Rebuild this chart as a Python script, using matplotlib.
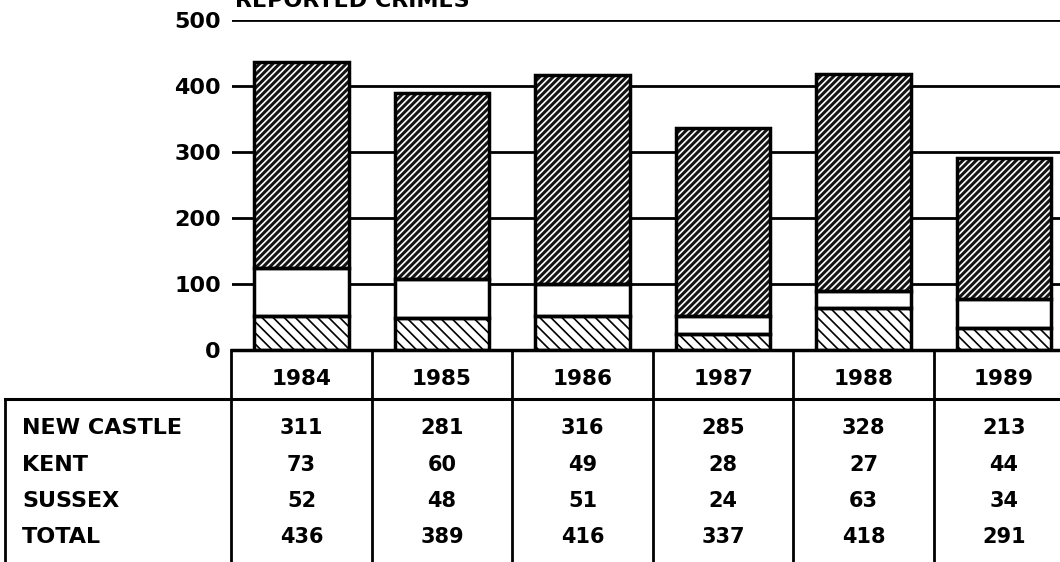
import matplotlib.pyplot as plt
import matplotlib.transforms as mtransforms
from matplotlib.lines import Line2D

years = ['1984', '1985', '1986', '1987', '1988', '1989']
new_castle = [311, 281, 316, 285, 328, 213]
kent = [73, 60, 49, 28, 27, 44]
sussex = [52, 48, 51, 24, 63, 34]
total = [436, 389, 416, 337, 418, 291]
row_labels = ['NEW CASTLE', 'KENT', 'SUSSEX', 'TOTAL']
y_ticks = [0, 100, 200, 300, 400, 500]

W, H = 1060, 562
plt.rcParams['font.family'] = ['DejaVu Sans']
plt.rcParams['font.weight'] = 'bold'
plt.rcParams['hatch.linewidth'] = 1.2


def fx(x):
    return x / W


def fy(y):
    return 1 - y / H


fig = plt.figure(figsize=(W / 100, H / 100), dpi=100)
ax = fig.add_axes([fx(232), fy(350), (W - 232) / W, (350 - 20) / H])

x = list(range(len(years)))
width = 0.67
kent_bottom = sussex
nc_bottom = [s + k for s, k in zip(sussex, kent)]

# fills
ax.bar(x, sussex, width, color='white', edgecolor='black', hatch='\\\\\\',
       linewidth=0, zorder=2)
ax.bar(x, kent, width, bottom=kent_bottom, color='white', linewidth=0, zorder=2)
ax.bar(x, new_castle, width, bottom=nc_bottom, color='#141414',
       edgecolor='white', hatch='/////', linewidth=0, zorder=2)
# outlines
for vals, bot in [(sussex, None), (kent, kent_bottom), (new_castle, nc_bottom)]:
    ax.bar(x, vals, width, bottom=bot, fill=False, edgecolor='black',
           linewidth=2.5, zorder=3)

for v in y_ticks[1:]:
    ax.axhline(v, color='black', lw=2, zorder=0)
ax.axhline(0, color='black', lw=2.5, zorder=4, clip_on=False)

ax.set_xlim((232 - 301.5) / 140.5, (W - 301.5) / 140.5)
ax.set_ylim(0, 500)
ax.set_yticks(y_ticks)
ax.set_yticklabels([str(v) for v in y_ticks], fontsize=16, fontweight='bold')
ax.tick_params(axis='y', length=0, pad=8)
ax.set_xticks([])
for s in ax.spines.values():
    s.set_visible(False)

# title is cut by the top edge in the original scan
fig.text(fx(235), fy(7), 'REPORTED CRIMES', ha='left', va='baseline',
         fontsize=16, fontweight='bold')

# table under the bars
trans = mtransforms.blended_transform_factory(ax.transData, fig.transFigure)
for i, yr in enumerate(years):
    ax.text(i, fy(379), yr, transform=trans, ha='center', va='center',
            fontsize=15.5, fontweight='bold', clip_on=False)

row_y = [428, 465, 501, 537]
rows = [new_castle, kent, sussex, total]
for lab, vals, yy in zip(row_labels, rows, row_y):
    fig.text(fx(22), fy(yy), lab, ha='left', va='center', fontsize=16,
             fontweight='bold')
    for i, v in enumerate(vals):
        ax.text(i, fy(yy), str(v), transform=trans, ha='center', va='center',
                fontsize=15, fontweight='bold', clip_on=False)

# grid lines of the table
for i in range(len(years) - 1):
    fig.add_artist(Line2D([i + 0.5, i + 0.5], [fy(350), fy(H)], transform=trans,
                          color='black', lw=2))
fig.add_artist(Line2D([fx(231), fx(231)], [fy(350), fy(H)], color='black', lw=2))
fig.add_artist(Line2D([fx(5), fx(W)], [fy(399), fy(399)], color='black', lw=2.2))
fig.add_artist(Line2D([fx(5), fx(5)], [fy(399), fy(H)], color='black', lw=2))

fig.savefig('out.png', dpi=100)
